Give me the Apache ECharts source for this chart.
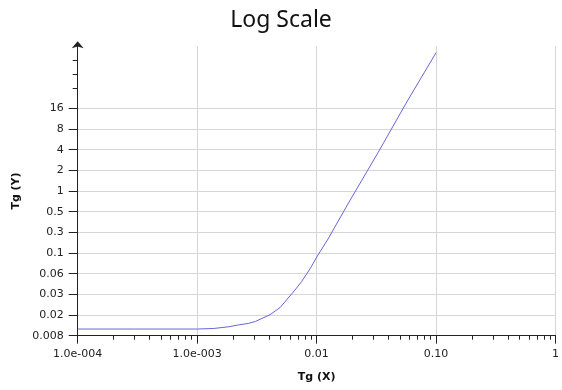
<!DOCTYPE html>
<html>
<head>
<meta charset="utf-8">
<script src="https://cdn.jsdelivr.net/npm/echarts@6/dist/echarts.min.js"></script>
<style>
  html, body { margin: 0; padding: 0; background: #ffffff; }
  #chart { width: 562px; height: 390px; }
</style>
</head>
<body>
<div id="chart"></div>
<script>
// ---- data ----
const titleText = 'Log Scale';
const xName = 'Tg (X)';
const yName = 'Tg (Y)';

const xValues = [0.0001, 0.0003, 0.001, 0.00138, 0.00184, 0.00223, 0.0027, 0.00307, 0.00408, 0.00494, 0.00659, 0.00748, 0.00879, 0.01028, 0.01247, 0.01828, 0.03245, 0.0575, 0.1];
const yValues = [0.0100, 0.0100, 0.0100, 0.0102, 0.0108, 0.0115, 0.0121, 0.0129, 0.0162, 0.0205, 0.0370, 0.0489, 0.0749, 0.120, 0.205, 0.662, 3.63, 20.9, 105.8];

const xTickValues = [0.0001, 0.001, 0.01, 0.1, 1];
const xTickLabels = ['1.0e-004', '1.0e-003', '0.01', '0.10', '1'];
const xMinorTickValues = [0.0002, 0.0003, 0.0004, 0.0005, 0.0006, 0.0007, 0.0008, 0.0009,
                          0.002, 0.003, 0.004, 0.005, 0.006, 0.007, 0.008, 0.009,
                          0.02, 0.03, 0.04, 0.05, 0.06, 0.07, 0.08, 0.09,
                          0.2, 0.3, 0.4, 0.5, 0.6, 0.7, 0.8, 0.9];

const yTickValues = [0.008, 0.016, 0.032, 0.064, 0.128, 0.256, 0.512, 1.024, 2.048, 4.096, 8.192, 16.384];
const yTickLabels = ['0.008', '0.02', '0.03', '0.06', '0.1', '0.3', '0.5', '1', '2', '4', '8', '16'];
const yExtraTickValues = [32, 51, 82];

const xMin = 0.0001, xMax = 1;
const yMin = 0.008, yMax = 131.072;

// ---- helpers ----
function nearestLabel(values, labels, v) {
  let best = 0, bd = Infinity;
  for (let i = 0; i < values.length; i++) {
    const d = Math.abs(Math.log(values[i]) - Math.log(v));
    if (d < bd) { bd = d; best = i; }
  }
  return labels[best];
}

const seriesData = xValues.map((x, i) => [x, yValues[i]]);
const FONT = 'DejaVu Sans';
const axisColor = '#222';

const chart = echarts.init(document.getElementById('chart'), null, { renderer: 'canvas' });
chart.setOption({
  backgroundColor: '#ffffff',
  animation: false,
  title: {
    text: titleText,
    left: 'center',
    top: 4,
    textStyle: { fontFamily: 'Noto Sans', fontSize: 23, fontWeight: 'normal', color: '#111' }
  },
  grid: { left: 77.7, right: 2.7, top: 46.3, bottom: 54.3, containLabel: false },
  xAxis: [{
    type: 'log', logBase: 10, min: xMin, max: xMax,
    position: 'bottom',
    name: xName, nameLocation: 'middle', nameGap: 36,
    nameTextStyle: { fontFamily: FONT, fontSize: 11, fontWeight: 'bold', color: '#111' },
    axisLine: { show: true, lineStyle: { color: axisColor, width: 1 } },
    axisTick: { show: true, length: 8, customValues: xTickValues, lineStyle: { color: axisColor } },
    axisLabel: {
      show: true, margin: 13, customValues: xTickValues,
      fontFamily: FONT, fontSize: 11, color: '#222',
      formatter: v => nearestLabel(xTickValues, xTickLabels, v)
    },
    splitLine: { show: true, lineStyle: { color: '#d6d6d6', width: 1 } }
  }, {
    type: 'log', logBase: 10, min: xMin, max: xMax,
    position: 'bottom',
    axisLine: { show: false },
    axisTick: { show: true, length: 4, customValues: xMinorTickValues, lineStyle: { color: axisColor } },
    axisLabel: { show: false },
    splitLine: { show: false }
  }],
  yAxis: [{
    type: 'log', logBase: 2, min: yMin, max: yMax,
    position: 'left',
    name: yName, nameLocation: 'middle', nameGap: 54,
    nameTextStyle: { fontFamily: FONT, fontSize: 11, fontWeight: 'bold', color: '#111' },
    axisLine: { show: true, symbol: ['none', 'arrow'], symbolSize: [9, 7], symbolOffset: [0, 5],
                lineStyle: { color: axisColor, width: 1 } },
    axisTick: { show: true, length: 9, customValues: yTickValues, lineStyle: { color: axisColor } },
    axisLabel: {
      show: true, margin: 14, customValues: yTickValues,
      fontFamily: FONT, fontSize: 11, color: '#222',
      formatter: v => nearestLabel(yTickValues, yTickLabels, v)
    },
    splitLine: { show: true, lineStyle: { color: '#d6d6d6', width: 1 } }
  }, {
    type: 'log', logBase: 2, min: yMin, max: yMax,
    position: 'left',
    axisLine: { show: false },
    axisTick: { show: true, length: 5, customValues: yExtraTickValues, lineStyle: { color: axisColor } },
    axisLabel: { show: false },
    splitLine: { show: false }
  }],
  series: [{
    type: 'line',
    xAxisIndex: 0, yAxisIndex: 0,
    data: seriesData,
    showSymbol: false, symbol: 'none',
    smooth: false,
    lineStyle: { color: '#6666d8', width: 1 },
    z: 5
  }]
});
</script>
</body>
</html>
